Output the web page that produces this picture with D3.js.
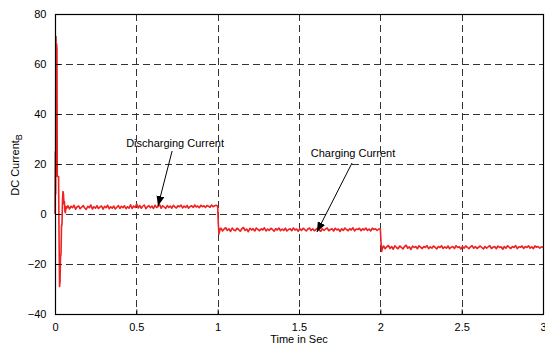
<!DOCTYPE html>
<html>
<head>
<meta charset="utf-8">
<script src="https://cdn.jsdelivr.net/npm/d3@7"></script>
<style>
  body { margin: 0; background: #fff; }
  svg text { font-family: "Liberation Sans", Arial, sans-serif; }
</style>
</head>
<body>
<svg id="chart" width="545" height="346"></svg>
<script>
// start-up transient, [time, current]
const transient = [
  [0, 0], [0.002, 25], [0.004, 8], [0.005, 60], [0.006, 71], [0.008, 50], [0.010, 68],
  [0.012, 66], [0.014, 15], [0.022, 15], [0.025, -10], [0.028, -29], [0.031, -27],
  [0.034, -17], [0.037, -16], [0.040, -5], [0.043, -4], [0.046, 5], [0.049, 9],
  [0.052, 8], [0.055, 4], [0.058, 5], [0.061, 1], [0.064, 0.5], [0.067, 3]
];

// discharging, t = 0.07 .. 1.0
const discharging = [
  2.2,3.3,2.0,3.1,2.5,3.5,1.9,2.9,3.2,2.1,2.7,3.4,2.4,1.8,3.1,2.5,3.6,2.0,2.9,2.3,
  3.3,2.2,2.8,3.2,1.9,3.1,2.5,3.5,2.1,2.9,2.3,3.2,2.0,2.7,3.4,2.2,3.1,2.5,3.3,2.1,
  2.9,2.3,3.7,2.2,3.2,2.6,4.0,2.4,3.4,2.3,3.1,3.6,2.1,2.9,3.3,2.5,3.2,2.2,3.5,2.6,
  3.0,3.8,2.3,3.3,2.8,2.2,3.4,2.6,3.2,2.3,3.5,2.8,2.4,3.3,2.9,3.6,2.4,3.2,2.6,3.4,
  2.3,3.0,3.3,2.6,3.6,2.8,3.2,2.5,3.5,2.9,3.3,2.6,3.4,3.1,2.7,3.6,2.9,3.3,3.5,3.1
];

// step at t = 1 s
const step1 = [[1.004, -4], [1.008, -8], [1.012, -6.8], [1.016, -5.8]];

// charging, t = 1.02 .. 2.0
const charging = [
  -5.7,-6.8,-6.0,-5.5,-6.6,-5.9,-7.0,-5.6,-6.4,-6.7,-5.7,-6.2,-6.9,-5.9,-5.4,-6.6,-6.0,-7.1,-5.7,-6.4,
  -5.9,-6.8,-5.6,-6.2,-6.7,-5.9,-6.4,-5.5,-6.8,-6.0,-6.6,-5.7,-6.2,-6.9,-5.9,-6.4,-5.6,-6.7,-6.0,-6.6,
  -5.7,-6.8,-6.2,-5.9,-6.7,-5.6,-6.4,-6.0,-6.9,-5.9,-6.6,-5.7,-6.2,-6.8,-6.0,-5.6,-6.6,-5.9,-6.7,-6.2,
  -5.7,-6.4,-6.9,-5.9,-6.6,-6.0,-5.6,-6.7,-6.2,-5.9,-6.8,-5.7,-6.4,-6.0,-7.0,-5.9,-6.6,-5.6,-6.2,-6.7,
  -5.9,-6.4,-5.5,-6.8,-6.0,-6.2,-5.7,-6.7,-5.9,-6.4,-5.6,-6.6,-6.0,-6.8,-5.7,-6.2,-5.9,-6.6,-6.0,-5.9
];

// step at t = 2 s
const step2 = [[2.004, -11], [2.008, -15], [2.012, -14], [2.016, -13.2]];

// t = 2.02 .. 3.0
const lowCharging = [
  -12.8,-13.9,-13.1,-12.6,-13.8,-13.0,-14.1,-12.7,-13.4,-13.9,-12.8,-13.3,-14.0,-13.0,-12.5,-13.7,-13.1,-14.2,-12.8,-13.4,
  -13.0,-13.9,-12.7,-13.3,-13.8,-13.0,-13.4,-12.6,-13.9,-13.1,-13.7,-12.8,-13.3,-14.0,-13.0,-13.4,-12.7,-13.8,-13.1,-13.7,
  -12.8,-13.9,-13.3,-13.0,-13.8,-12.7,-13.4,-13.1,-14.0,-13.0,-13.7,-12.8,-13.3,-13.9,-13.1,-12.7,-13.7,-13.0,-13.8,-13.3,
  -12.8,-13.4,-14.0,-13.0,-13.7,-13.1,-12.7,-13.8,-13.3,-13.0,-13.9,-12.8,-13.4,-13.1,-14.1,-13.0,-13.7,-12.7,-13.3,-13.8,
  -13.0,-13.4,-12.6,-13.9,-13.1,-13.3,-12.8,-13.8,-13.0,-13.4,-12.7,-13.7,-13.1,-13.9,-12.8,-13.3,-13.0,-13.7,-13.1,-13.4
];

const xTicks = [0, 0.5, 1, 1.5, 2, 2.5, 3];
const yTicks = [-40, -20, 0, 20, 40, 60, 80];

// annotations: label position and arrow [from, to] in data units
const notes = [
  { text: 'Discharging Current', at: [0.738, 26.8], from: [0.72, 25.2], to: [0.633, 3.2] },
  { text: 'Charging Current', at: [1.832, 22.8], from: [1.826, 20.4], to: [1.61, -7.2] }
];

const plot = { left: 55, right: 543, top: 14, bottom: 314 };

const x = d3.scaleLinear().domain([0, 3]).range([plot.left, plot.right]);
const y = d3.scaleLinear().domain([-40, 80]).range([plot.bottom, plot.top]);

// spread a segment's samples over its time span
function spread(values, t0, t1) {
  const dt = (t1 - t0) / (values.length - 1);
  return values.map((v, i) => [t0 + i * dt, v]);
}

const series = [].concat(
  transient,
  spread(discharging, 0.07, 1.0),
  step1,
  spread(charging, 1.02, 2.0),
  step2,
  spread(lowCharging, 2.02, 3.0)
);

const svg = d3.select('#chart');

svg.append('defs').append('marker')
  .attr('id', 'head')
  .attr('viewBox', '0 0 10 10')
  .attr('refX', 10).attr('refY', 5)
  .attr('markerWidth', 10).attr('markerHeight', 10)
  .attr('markerUnits', 'userSpaceOnUse')
  .attr('orient', 'auto')
  .append('path')
  .attr('d', 'M0,1 L10,5 L0,9 Z')
  .attr('fill', '#000');

// grid
const grid = svg.append('g')
  .attr('stroke', '#333')
  .attr('stroke-width', 1)
  .attr('stroke-dasharray', '7,4');

grid.selectAll('.gx')
  .data(xTicks.slice(1, -1))
  .enter()
  .append('line')
  .attr('x1', d => Math.round(x(d)) + 0.5).attr('x2', d => Math.round(x(d)) + 0.5)
  .attr('y1', plot.top).attr('y2', plot.bottom);

grid.selectAll('.gy')
  .data(yTicks.slice(1, -1))
  .enter()
  .append('line')
  .attr('y1', d => Math.round(y(d)) + 0.5).attr('y2', d => Math.round(y(d)) + 0.5)
  .attr('x1', plot.left).attr('x2', plot.right);

// signal
const line = d3.line()
  .x(d => x(d[0]))
  .y(d => y(d[1]));

svg.append('path')
  .datum(series)
  .attr('d', line)
  .attr('fill', 'none')
  .attr('stroke', '#ee2222')
  .attr('stroke-width', 1.6)
  .attr('stroke-linejoin', 'round');

// frame
svg.append('rect')
  .attr('x', plot.left + 0.5).attr('y', plot.top + 0.5)
  .attr('width', plot.right - plot.left).attr('height', plot.bottom - plot.top)
  .attr('fill', 'none')
  .attr('stroke', '#000')
  .attr('stroke-width', 1.2);

// axes (inward ticks)
svg.append('g')
  .attr('transform', 'translate(0,' + (plot.bottom + 0.5) + ')')
  .call(d3.axisBottom(x).tickValues(xTicks).tickSizeInner(-5).tickSizeOuter(0).tickPadding(9).tickFormat(d3.format('')))
  .call(g => g.select('.domain').remove())
  .selectAll('text')
  .style('font-size', '11px')
  .attr('fill', '#000');

svg.append('g')
  .attr('transform', 'translate(' + (plot.left + 0.5) + ',0)')
  .call(d3.axisLeft(y).tickValues(yTicks).tickSizeInner(-5).tickSizeOuter(0).tickPadding(9))
  .call(g => g.select('.domain').remove())
  .selectAll('text')
  .style('font-size', '11px')
  .attr('fill', '#000');

svg.selectAll('.tick line').attr('stroke', '#000');

// axis titles
svg.append('text')
  .attr('x', (plot.left + plot.right) / 2)
  .attr('y', 343)
  .attr('text-anchor', 'middle')
  .style('font-size', '11px')
  .text('Time in Sec');

const yl = svg.append('text')
  .attr('transform', 'translate(19,' + ((plot.top + plot.bottom) / 2 + 1) + ') rotate(-90)')
  .attr('text-anchor', 'middle')
  .style('font-size', '11px');
yl.append('tspan').text('DC Current');
yl.append('tspan').attr('dy', 3).style('font-size', '9px').text('B');

// annotations
notes.forEach(n => {
  svg.append('text')
    .attr('x', x(n.at[0])).attr('y', y(n.at[1]))
    .attr('text-anchor', 'middle')
    .style('font-size', '11px')
    .text(n.text);
  svg.append('line')
    .attr('x1', x(n.from[0])).attr('y1', y(n.from[1]))
    .attr('x2', x(n.to[0])).attr('y2', y(n.to[1]))
    .attr('stroke', '#000')
    .attr('stroke-width', 1)
    .attr('marker-end', 'url(#head)');
});
</script>
</body>
</html>
